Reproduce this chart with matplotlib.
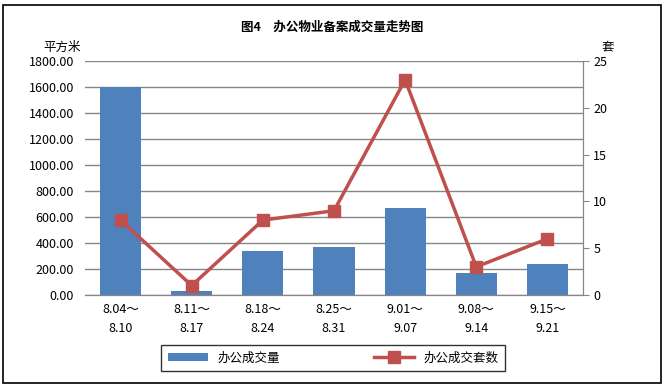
import numpy as np
import matplotlib.pyplot as plt
from matplotlib.patches import Rectangle

plt.rcParams['font.family'] = ['Noto Sans CJK SC', 'DejaVu Sans']

# 数据
weeks = ['8.04～\n8.10', '8.11～\n8.17', '8.18～\n8.24', '8.25～\n8.31',
         '9.01～\n9.07', '9.08～\n9.14', '9.15～\n9.21']
area = [1600, 30, 338, 369, 669, 169, 238]   # 办公成交量（平方米）
units = [8, 1, 8, 9, 23, 3, 6]               # 办公成交套数（套）

fig = plt.figure(figsize=(6.64, 3.87), dpi=100)
ax = fig.add_axes([0.128, 0.238, 0.75, 0.604])
ax2 = ax.twinx()

x = np.arange(len(weeks))
ax.bar(x, area, width=0.58, color='#4F81BD', label='办公成交量', zorder=2)
ax2.plot(x, units, color='#C0504D', lw=2.5, marker='s', markersize=8,
         label='办公成交套数', zorder=3)

ax.set_xlim(-0.5, len(weeks) - 0.5)
ax.set_ylim(0, 1800)
ax.set_yticks(np.arange(0, 1801, 200))
ax.set_yticklabels([f'{v:.2f}' for v in np.arange(0, 1801, 200)], fontsize=9)
ax.grid(axis='y', color='#868686', lw=1, zorder=0)
ax.set_axisbelow(True)
ax.set_xticks(x)
ax.set_xticklabels(weeks, fontsize=9, linespacing=1.6)
ax.tick_params(axis='x', length=0, pad=6)
ax.tick_params(axis='y', length=0, pad=8)

ax2.set_ylim(0, 25)
ax2.set_yticks(range(0, 26, 5))
ax2.tick_params(axis='y', labelsize=9, length=4, color='#868686', direction='out')

for a in (ax, ax2):
    for s in ['top', 'left']:
        a.spines[s].set_visible(False)
    a.spines['bottom'].set_color('#868686')
    a.spines['right'].set_color('#868686')

fig.text(0.5, 0.93, '图4　办公物业备案成交量走势图', ha='center', va='center',
         fontsize=9, fontweight='bold')
fig.text(0.093, 0.878, '平方米', ha='center', va='center', fontsize=9)
fig.text(0.915, 0.878, '套', ha='center', va='center', fontsize=9)

h1, l1 = ax.get_legend_handles_labels()
h2, l2 = ax2.get_legend_handles_labels()
leg = fig.legend(h1 + h2, l1 + l2, loc='center', bbox_to_anchor=(0.502, 0.075),
                 ncol=2, frameon=True, fancybox=False,
                 edgecolor='black', columnspacing=7.5, handlelength=3.2,
                 handleheight=0.5, borderpad=0.5, borderaxespad=0,
                 prop={'size': 9})
leg.get_frame().set_linewidth(1)

fig.patches.append(Rectangle((0.005, 0.01), 0.99, 0.978, transform=fig.transFigure,
                             fill=False, edgecolor='black', lw=1.2))

fig.savefig('out.png', dpi=100)
